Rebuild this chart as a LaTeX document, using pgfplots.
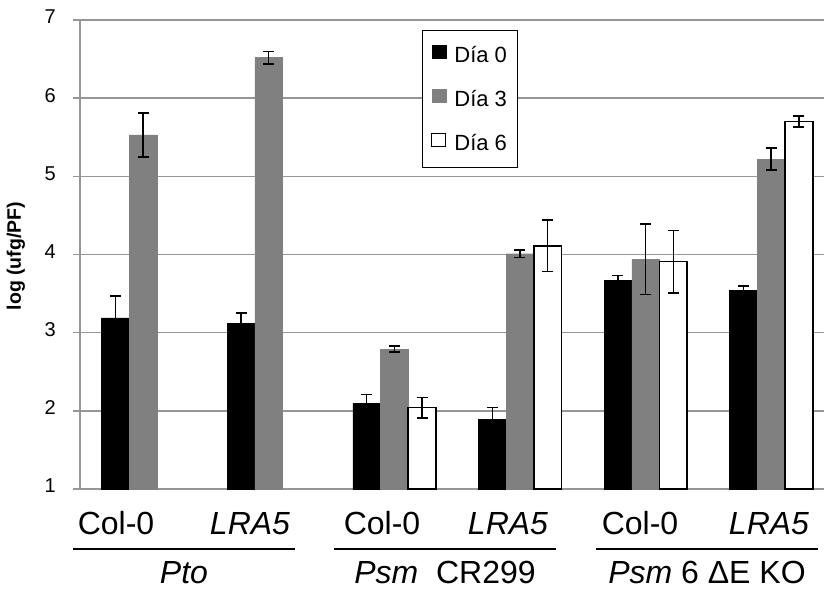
\documentclass[border=0pt]{standalone}
\usepackage{pgfplots}
\pgfplotsset{compat=1.18}
\usepackage{fontspec}
\setmainfont{Liberation Sans}
\definecolor{gridgray}{RGB}{150,150,150}
\definecolor{bargray}{RGB}{128,128,128}
\begin{document}
\begin{tikzpicture}
\begin{axis}[
  at={(0pt,0pt)}, anchor=south west,
  scale only axis, width=744pt, height=469pt,
  xmin=-0.502, xmax=5.42, ymin=1, ymax=7,
  ybar=0pt, bar width=27.7pt,
  axis x line*=bottom, axis y line*=left,
  axis line style={gridgray, line width=1.5pt},
  xtick=\empty,
  ytick={1,2,3,4,5,6,7},
  yticklabels={},
  ymajorgrids, grid style={gridgray, line width=1.5pt},
  major tick length=7pt, tick align=outside,
  tick style={gridgray, line width=1.5pt},
  legend style={at={(rel axis cs:0.4597,0.9787)}, anchor=north west,
    draw=black, line width=1pt, inner xsep=8pt, inner ysep=14pt,
    font=\fontsize{22}{26}\selectfont, row sep=22pt, fill=white,
    nodes={inner xsep=3pt}},
  legend cell align=left,
  clip=true,
]
\addplot[fill=black, draw=black,
  legend image code/.code={\fill[black] (4pt,-3pt) rectangle (18pt,10pt); \path (22pt,0pt);},
  error bars/.cd, y dir=both, y explicit,
  error bar style={black, line width=1.5pt}, error mark options={black, line width=1.5pt, mark size=5.5pt, rotate=90}]
  table[x=x, y=y, y error=e] {
x y e
0 3.19 0.28
1 3.12 0.13
2 2.10 0.11
3 1.89 0.15
4 3.67 0.06
5 3.54 0.06
};
\addlegendentry{Día 0}
\addplot[fill=bargray, draw=bargray,
  legend image code/.code={\fill[bargray] (4pt,-3pt) rectangle (18pt,10pt); \path (22pt,0pt);},
  error bars/.cd, y dir=both, y explicit,
  error bar style={black, line width=1.5pt}, error mark options={black, line width=1.5pt, mark size=5.5pt, rotate=90}]
  table[x=x, y=y, y error=e] {
x y e
0 5.53 0.28
1 6.52 0.08
2 2.79 0.04
3 4.01 0.05
4 3.94 0.45
5 5.22 0.14
};
\addlegendentry{Día 3}
\addplot[fill=white, draw=black, line width=1.5pt,
  legend image code/.code={\draw[black, fill=white, line width=1.2pt] (2.5pt,-3.5pt) rectangle (16.5pt,9.5pt); \path (22pt,0pt);},
  error bars/.cd, y dir=both, y explicit,
  error bar style={black, line width=1.5pt}, error mark options={black, line width=1.5pt, mark size=5.5pt, rotate=90}]
  table[x=x, y=y, y error=e] {
x y e
2 2.04 0.13
3 4.11 0.33
4 3.91 0.40
5 5.70 0.07
};
\addlegendentry{Día 6}
\end{axis}
% y tick labels
\begin{scope}[every node/.style={anchor=east, inner sep=0pt, font=\fontsize{20}{23}\selectfont}]
\node at (-24pt,3pt) {1};
\node at (-24pt,81.2pt) {2};
\node at (-24pt,159.3pt) {3};
\node at (-24pt,237.5pt) {4};
\node at (-24pt,315.7pt) {5};
\node at (-24pt,393.8pt) {6};
\node at (-24pt,472pt) {7};
\end{scope}
% y label
\node[rotate=90, font=\fontsize{19.5}{22}\selectfont\bfseries] at (-64pt,233pt) {log (ufg/PF)};
% category labels
\begin{scope}[every node/.style={anchor=base, inner sep=0pt, font=\fontsize{32}{36}\selectfont}]
\node at (36pt,-45pt) {Col-0};
\node at (170pt,-45pt) {\itshape LRA5};
\node at (302pt,-45pt) {Col-0};
\node at (428pt,-45pt) {\itshape LRA5};
\node at (560pt,-45pt) {Col-0};
\node at (689pt,-45pt) {\itshape LRA5};
\node at (104pt,-94pt) {\itshape Pto};
\node at (365pt,-94pt) {\itshape Psm\upshape\ \ CR299};
\node at (627pt,-94pt) {\itshape Psm\upshape\ 6 ΔE KO};
\end{scope}
\draw[black, line width=1.8pt] (-7pt,-60pt) -- (215pt,-60pt);
\draw[black, line width=1.8pt] (254pt,-60pt) -- (476pt,-60pt);
\draw[black, line width=1.8pt] (516pt,-60pt) -- (738pt,-60pt);
\pgfresetboundingbox
\path (-80pt,-100pt) rectangle (744pt,489pt);
\end{tikzpicture}
\end{document}
